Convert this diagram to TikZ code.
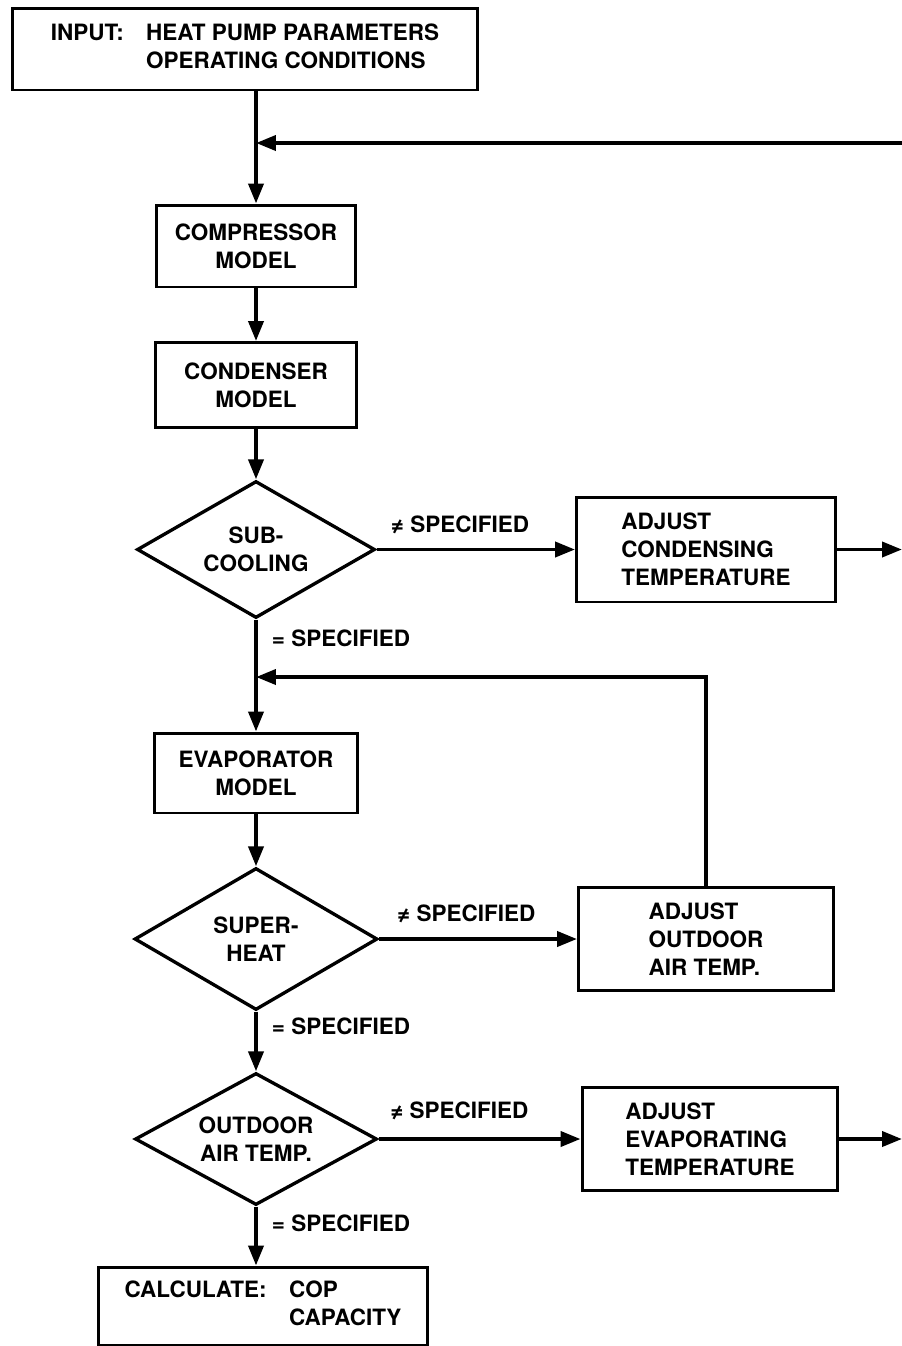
\documentclass[tikz,border=0pt]{standalone}
\usepackage{fontspec}
\setmainfont{TeX Gyre Heros}
\usetikzlibrary{shapes.geometric,arrows.meta}
\begin{document}
\begin{tikzpicture}[x=0.02cm,y=-0.02cm,line width=2.2pt,
    every node/.style={font=\fontsize{12.8}{16}\selectfont\bfseries},
    >={Triangle[length=0.4cm,width=0.3cm]}]

        \useasboundingbox (0,0) rectangle (902,1346);

        \begin{scope}[every node/.append style={draw,rectangle,line width=1.7pt,inner sep=0pt}]
          \node (input) at (245,49)   [minimum width=9.32cm,minimum height=1.64cm]
            {INPUT:\quad\begin{tabular}[t]{@{}l@{}}HEAT PUMP PARAMETERS\\OPERATING CONDITIONS\end{tabular}};
          \node (comp)  at (256,246)  [minimum width=4cm,minimum height=1.64cm,align=center] {COMPRESSOR\\MODEL};
          \node (cond)  at (256,385)  [minimum width=4.02cm,minimum height=1.7cm,align=center] {CONDENSER\\MODEL};
          \node (adjc)  at (706,549.5)[minimum width=5.18cm,minimum height=2.1cm,align=left] {ADJUST\\CONDENSING\\TEMPERATURE};
          \node (evap)  at (256,773)  [minimum width=4.06cm,minimum height=1.6cm,align=center] {EVAPORATOR\\MODEL};
          \node (adjo)  at (706,939)  [minimum width=5.1cm,minimum height=2.06cm,align=left] {ADJUST\\OUTDOOR\\AIR TEMP.};
          \node (adje)  at (710,1139) [minimum width=5.12cm,minimum height=2.06cm,align=left] {ADJUST\\EVAPORATING\\TEMPERATURE};
          \node (calc)  at (263,1306) [minimum width=6.6cm,minimum height=1.56cm]
            {CALCULATE:\quad\begin{tabular}[t]{@{}l@{}}COP\\CAPACITY\end{tabular}};
        \end{scope}

        \begin{scope}[every node/.append style={draw,diamond,aspect=1.75,line width=1.9pt,inner sep=0pt,align=center}]
          \node (sub) at (256,549.5) [minimum width=4.76cm,minimum height=2.74cm] {SUB-\\COOLING};
          \node (sup) at (256,939)   [minimum width=4.86cm,minimum height=2.84cm] {SUPER-\\HEAT};
          \node (out) at (256,1139)  [minimum width=4.84cm,minimum height=2.64cm] {OUTDOOR\\AIR TEMP.};
        \end{scope}

        \coordinate (j1) at (256,143);
        \coordinate (r1) at (902,143);
        \coordinate (j2) at (256,677);
        \coordinate (r2) at (902,549.5);
        \coordinate (r3) at (902,1139);

        \begin{scope}[every node/.append style={inner sep=0pt}]
          \path (input.south -| comp.north) edge[->] (comp.north);
          \path (r1)        edge[->] (j1);
          \path (comp)      edge[->] (cond);
          \path (cond)      edge[->] (sub);
          \path (sub.east)  edge[->] node[above=8pt,pos=.42] {≠ SPECIFIED} (adjc.west);
          \path (adjc.east) edge[->] (r2);
          \path (sub.south) edge[->] node[right=8pt,pos=.165] {= SPECIFIED} (evap.north);
          \path (adjo.north) edge[->,to path={|- (\tikztotarget)}] (j2);
          \path (evap)      edge[->] (sup);
          \path (sup.east)  edge[->] node[above=8pt,pos=.44] {≠ SPECIFIED} (adjo.west);
          \path (sup.south) edge[->] node[right=8pt,pos=.25] {= SPECIFIED} (out.north);
          \path (out.east)  edge[->] node[above=10pt,pos=.40] {≠ SPECIFIED} (adje.west);
          \path (adje.east) edge[->] (r3);
          \path (out.south) edge[->] node[right=8pt,pos=.28] {= SPECIFIED} (out.south |- calc.north);
        \end{scope}

      \end{tikzpicture}
\end{document}
